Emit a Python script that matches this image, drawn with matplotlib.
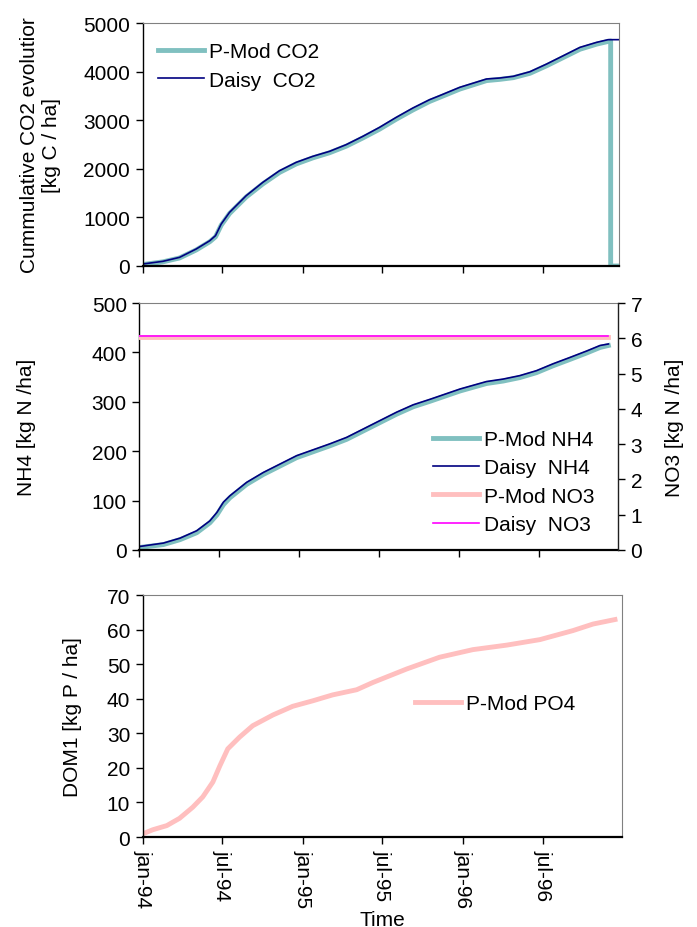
import matplotlib
matplotlib.use("Agg")
import matplotlib.pyplot as plt

plt.rcParams['font.family'] = ['Liberation Sans', 'DejaVu Sans']

# x in days since 1 jan 1994
tick_days = [0, 181, 365, 546, 730, 912]
tick_labels = ["jan-94", "jul-94", "jan-95", "jul-95", "jan-96", "jul-96"]

# top panel: cumulative CO2 [kg C / ha]
co2_days = [0, 46, 84, 122, 153, 166, 179, 198, 236, 274, 312, 350, 388, 426, 464,
            502, 540, 578, 616, 654, 677, 723, 784, 814, 845, 883, 921, 959, 997,
            1035, 1061, 1086]
daisy_co2 = [41, 96, 178, 350, 521, 625, 864, 1104, 1447, 1722, 1961, 2133, 2257, 2359,
             2497, 2668, 2853, 3058, 3251, 3422, 3505, 3677, 3848, 3868, 3903, 3998,
             4156, 4327, 4499, 4602, 4657, 4657]
pmod_co2_days = co2_days[:-1] + [1067, 1067, 1086]
pmod_co2 = [30, 85, 165, 330, 500, 600, 840, 1080, 1420, 1690, 1925, 2100, 2225, 2330,
            2465, 2635, 2815, 3020, 3210, 3385, 3470, 3640, 3815, 3840, 3875, 3965,
            4120, 4290, 4460, 4565, 4620, 4630, 0, 0]

# middle panel: NH4 (left) and NO3 (right) [kg N /ha]
nh4_days = [0, 55, 93, 131, 161, 177, 192, 207, 245, 283, 321, 359, 397, 435, 473,
            511, 549, 587, 625, 663, 686, 732, 792, 830, 868, 906, 944, 983, 1021,
            1051, 1070]
daisy_nh4 = [7, 14, 24, 39, 59, 76, 97, 110, 137, 157, 174, 191, 203, 215, 228, 245,
             262, 279, 294, 305, 312, 326, 341, 346, 353, 363, 377, 390, 403, 414, 417]
pmod_nh4 = [5, 11, 21, 35, 55, 71, 92, 106, 133, 153, 170, 187, 199, 211, 224, 241,
            258, 275, 290, 301, 308, 322, 337, 342, 349, 359, 373, 386, 399, 410, 414]
no3_days = [0, 1070]
pmod_no3 = [6.05, 6.05]
daisy_no3 = [6.06, 6.06]

# bottom panel: PO4 [kg P / ha]
po4_days = [0, 23, 55, 84, 114, 137, 160, 176, 194, 221, 251, 297, 342, 388, 433, 488,
            525, 602, 677, 753, 830, 906, 981, 1027, 1077]
pmod_po4 = [0.9, 2.1, 3.3, 5.4, 8.6, 11.6, 15.9, 20.6, 25.5, 28.9, 32.2, 35.3, 37.8,
            39.4, 41.1, 42.6, 44.7, 48.6, 52.0, 54.2, 55.5, 57.1, 59.7, 61.6, 62.9]

teal = '#80C0C0'
navy = '#000080'
pink = '#FFBFBF'
magenta = '#FF00FF'
gray = '#808080'
FS = 15

W, H = 697, 928
fig = plt.figure(figsize=(W / 100, H / 100), dpi=100)


def px_axes(l, r, t, b):
    return fig.add_axes([l / W, 1 - b / H, (r - l) / W, (b - t) / H])


def style(ax):
    ax.spines['left'].set_color('black')
    ax.spines['left'].set_linewidth(1.0)
    ax.spines['bottom'].set_color('black')
    ax.spines['bottom'].set_linewidth(1.6)
    ax.spines['top'].set_color(gray)
    ax.spines['right'].set_color(gray)
    ax.tick_params(direction='out', length=5, width=1, labelsize=FS, pad=4,
                   top=False, right=False)
    ax.set_xticks(tick_days)


leg_kw = dict(frameon=False, fontsize=FS, handlelength=2.2, handletextpad=0.25,
              labelspacing=0.45, borderpad=0, borderaxespad=0)

# ---- top
ax1 = px_axes(142.7, 619, 24, 267)
style(ax1)
ax1.plot(pmod_co2_days, pmod_co2, color=teal, lw=3.5, label="P-Mod CO2")
ax1.plot(co2_days, daisy_co2, color=navy, lw=1.2, label="Daisy  CO2")
ax1.set_xlim(0, 1086)
ax1.set_ylim(0, 5000)
ax1.set_yticks(range(0, 5001, 1000))
ax1.set_xticklabels([])
ax1.set_ylabel("Cummulative CO2 evolutior\n[kg C / ha]", fontsize=FS,
               va='center', linespacing=1.2)
ax1.yaxis.set_label_coords(-0.2156, 0.5)
ax1.legend(loc='center left', bbox_to_anchor=(158 / W, 1 - 67 / H),
           bbox_transform=fig.transFigure, **leg_kw)

# ---- middle
ax_m = px_axes(139.3, 618, 304, 551)
style(ax_m)
ax_m.spines['right'].set_visible(False)
l1, = ax_m.plot(nh4_days, pmod_nh4, color=teal, lw=3.5, label="P-Mod NH4")
l2, = ax_m.plot(nh4_days, daisy_nh4, color=navy, lw=1.2, label="Daisy  NH4")
ax_m.set_xlim(0, 1092)
ax_m.set_ylim(0, 500)
ax_m.set_yticks(range(0, 501, 100))
ax_m.set_xticklabels([])
ax_m.set_ylabel("NH4 [kg N /ha]", fontsize=FS, va='center')
ax_m.yaxis.set_label_coords(-0.2346, 0.5)

ax2 = ax_m.twinx()
for s in ['left', 'top', 'bottom']:
    ax2.spines[s].set_visible(False)
ax2.spines['right'].set_color('#202020')
ax2.spines['right'].set_linewidth(1.0)
l3, = ax2.plot(no3_days, pmod_no3, color=pink, lw=3.5, label="P-Mod NO3")
l4, = ax2.plot(no3_days, daisy_no3, color=magenta, lw=1.2, label="Daisy  NO3")
ax2.set_ylim(0, 7)
ax2.set_yticks(range(0, 8))
ax2.tick_params(direction='out', length=5, width=1, labelsize=FS, pad=4)
ax2.set_ylabel("NO3 [kg N /ha]", fontsize=FS, va='center', rotation=90)
ax2.yaxis.set_label_coords(1.119, 0.5)
ax2.legend(handles=[l1, l2, l3, l4], loc='center left',
           bbox_to_anchor=(433 / W, 1 - 483 / H), bbox_transform=fig.transFigure,
           **leg_kw)

# ---- bottom
ax3 = px_axes(142.7, 622, 596, 838)
style(ax3)
ax3.plot(po4_days, pmod_po4, color=pink, lw=3.5, label="P-Mod PO4")
ax3.set_xlim(0, 1093)
ax3.set_ylim(0, 70)
ax3.set_yticks(range(0, 71, 10))
ax3.set_xticklabels(tick_labels, rotation=270, ha='center', va='top')
ax3.set_ylabel("DOM1 [kg P / ha]", fontsize=FS, va='center')
ax3.yaxis.set_label_coords(-0.1475, 0.5)
ax3.set_xlabel("Time", fontsize=FS, va='top')
ax3.xaxis.set_label_coords(0.5, -0.3)
ax3.legend(loc='center left', bbox_to_anchor=(415 / W, 1 - 705 / H),
           bbox_transform=fig.transFigure, **leg_kw)

fig.savefig("out.png", dpi=100)
